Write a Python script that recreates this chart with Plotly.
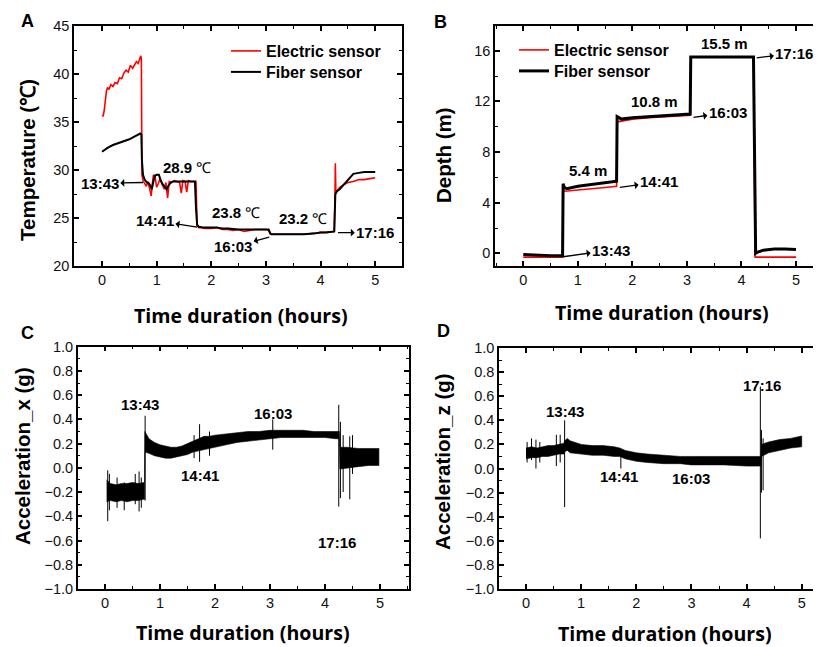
import plotly.graph_objects as go

# page is 821x647; the HTML body adds an 8 px margin, so the figure is 813x639
OFF = 8
W, H = 821 - OFF, 647 - OFF

# ---------------- Panel A : temperature ----------------
tempA_elec_t = [0.00,0.02,0.04,0.06,0.08,0.10,0.13,0.16,0.20,0.24,0.28,0.32,0.36,0.40,0.44,0.48,0.52,0.56,0.60,0.63,
                0.66,0.69,0.71,0.72,0.73,0.75,0.78,0.81,0.84,0.87,0.90,0.92,0.94,0.97,1.00,1.03,1.06,1.10,1.14,1.17,
                1.20,1.23,1.27,1.32,1.37,1.42,1.45,1.48,1.52,1.55,1.58,1.62,1.66,1.70,1.72,1.74,1.77,1.80,1.9,2.0,
                2.1,2.2,2.3,2.4,2.5,2.6,2.7,2.8,2.9,3.0,3.05,3.08,3.12,3.3,3.5,3.7,3.9,4.0,4.1,4.2,
                4.25,4.26,4.27,4.28,4.30,4.35,4.4,4.5,4.6,4.7,4.8,4.9,5.0]
tempA_elec_v = [35.7,35.6,36.2,37.5,38.2,38.6,38.4,38.9,38.7,39.1,39.0,39.6,39.5,40.1,40.4,40.2,40.9,40.6,41.0,41.3,
                41.1,41.6,41.9,41.5,29.5,28.9,28.6,28.3,28.8,27.9,27.3,28.5,29.5,29.3,28.2,28.6,29.1,28.5,28.0,28.7,
                27.1,28.8,28.7,28.9,28.8,28.7,27.6,28.9,28.8,27.7,28.9,28.8,28.8,28.8,28.8,24.2,24.0,24.0,23.9,23.9,
                24.0,23.8,23.8,23.7,23.8,23.6,23.7,23.8,23.8,23.8,23.7,23.3,23.3,23.3,23.3,23.3,23.4,23.5,23.5,23.6,
                23.6,26.0,30.7,27.5,27.8,28.2,28.4,28.7,28.8,29.0,29.0,29.1,29.2]
tempA_fib_t = [0.00,0.05,0.10,0.20,0.30,0.40,0.50,0.60,0.70,0.72,0.73,0.75,0.78,0.82,0.86,0.89,0.91,0.94,0.97,1.00,
               1.04,1.07,1.10,1.14,1.18,1.22,1.26,1.30,1.40,1.50,1.60,1.70,1.72,1.74,1.77,1.85,2.0,2.1,2.2,2.3,
               2.5,2.7,2.9,3.05,3.08,3.1,3.3,3.5,3.7,3.9,4.0,4.1,4.25,4.27,4.30,4.35,4.40,4.45,4.50,4.55,
               4.60,4.70,4.80,4.90,5.00]
tempA_fib_v = [31.9,32.1,32.3,32.6,32.8,33.0,33.2,33.5,33.8,33.7,31.0,29.5,29.0,28.7,28.6,28.3,28.0,28.8,29.4,29.5,
               29.5,29.0,28.6,28.3,28.0,28.4,28.7,28.8,28.8,28.8,28.8,28.8,26.0,24.3,24.1,24.0,24.0,24.0,23.9,23.9,
               23.8,23.8,23.8,23.8,23.4,23.3,23.3,23.3,23.3,23.4,23.5,23.5,23.6,27.5,27.8,28.0,28.3,28.7,29.0,29.3,
               29.6,29.7,29.8,29.8,29.8]

# ---------------- Panel B : depth ----------------
depB_elec_t = [0, 0.72, 0.73, 0.76, 1.0, 1.3, 1.5, 1.71, 1.72, 1.75, 2.0, 2.3, 2.6, 3.06, 3.07, 3.5, 4.0, 4.22, 4.25, 4.6, 5.0]
depB_elec_v = [-0.3, -0.3, 5.0, 4.9, 5.0, 5.1, 5.2, 5.3, 10.4, 10.4, 10.6, 10.7, 10.8, 10.9, 15.5, 15.5, 15.5, 15.5, -0.3, -0.3, -0.3]
depB_fib_t = [0, 0.2, 0.5, 0.72, 0.73, 0.75, 0.8, 1.0, 1.2, 1.4, 1.6, 1.71, 1.72, 1.75, 1.8, 2.0, 2.4, 2.8, 3.06, 3.07,
              3.5, 4.0, 4.22, 4.26, 4.3, 4.4, 4.5, 4.6, 4.8, 5.0]
depB_fib_v = [-0.1, -0.15, -0.2, -0.2, 5.5, 5.2, 5.1, 5.3, 5.4, 5.5, 5.6, 5.7, 10.8, 10.7, 10.6, 10.7, 10.8, 10.9, 11.0, 15.5,
              15.5, 15.5, 15.5, 0.0, 0.1, 0.25, 0.3, 0.35, 0.35, 0.3]

# ---------------- Panel C : acceleration x (band envelope + spikes) ----------------
accC_t = [0.03,0.1,0.2,0.3,0.4,0.5,0.6,0.7,0.72,
          0.725,0.8,0.9,1.0,1.1,1.2,1.3,1.4,1.5,1.6,1.7,1.8,1.9,
          2.0,2.2,2.4,2.6,2.8,3.0,3.2,3.4,3.6,3.8,4.0,4.2,4.26,
          4.27,4.4,4.6,4.8,4.98]
accC_hi = [-0.10,-0.13,-0.14,-0.13,-0.13,-0.12,-0.13,-0.12,-0.12,
           0.30,0.24,0.21,0.19,0.18,0.17,0.17,0.18,0.20,0.22,0.24,0.26,0.26,
           0.27,0.28,0.29,0.30,0.30,0.31,0.31,0.31,0.31,0.30,0.30,0.30,0.30,
           0.17,0.17,0.16,0.16,0.16]
accC_lo = [-0.28,-0.27,-0.28,-0.27,-0.28,-0.27,-0.27,-0.26,-0.26,
           0.13,0.12,0.10,0.09,0.08,0.08,0.09,0.10,0.11,0.13,0.14,0.15,0.16,
           0.17,0.19,0.21,0.22,0.23,0.24,0.25,0.25,0.25,0.25,0.25,0.24,0.24,
           -0.01,0.00,0.01,0.02,0.02]
spikeC_t = [0.05, 0.08, 0.22, 0.35, 0.55, 0.62, 0.66, 0.73, 1.62, 1.72, 1.9, 3.05, 4.25, 4.28, 4.33, 4.45, 4.5]
spikeC_lo = [-0.44, -0.35, -0.33, -0.35, -0.30, -0.36, -0.33, -0.27, 0.08, 0.05, 0.10, 0.15, -0.32, -0.25, -0.20, -0.26, -0.05]
spikeC_hi = [-0.02, -0.05, -0.08, -0.12, -0.05, -0.03, -0.08, 0.43, 0.27, 0.36, 0.30, 0.40, 0.52, 0.38, 0.27, 0.26, 0.27]

# ---------------- Panel D : acceleration z ----------------
accD_t = [0.0,0.1,0.2,0.3,0.4,0.5,0.6,0.69,
          0.70,0.75,0.8,
          1.0,1.2,1.4,1.6,1.7,1.8,
          2.0,2.2,2.5,2.8,3.0,3.3,3.6,4.0,4.2,4.26,
          4.27,4.4,4.6,4.8,5.0]
accD_hi = [0.17,0.18,0.17,0.18,0.19,0.19,0.20,0.21,
           0.23,0.25,0.23,
           0.20,0.19,0.19,0.18,0.17,0.15,
           0.13,0.12,0.11,0.10,0.10,0.10,0.10,0.10,0.10,0.10,
           0.20,0.22,0.24,0.25,0.27]
accD_lo = [0.08,0.09,0.09,0.10,0.10,0.11,0.12,0.12,
           0.14,0.15,0.13,
           0.12,0.11,0.11,0.10,0.10,0.08,
           0.06,0.05,0.04,0.04,0.03,0.03,0.03,0.02,0.02,0.02,
           0.10,0.13,0.15,0.17,0.18]
spikeD_t = [0.02, 0.10, 0.18, 0.25, 0.55, 0.62, 0.70, 1.72, 4.25, 4.27, 4.30]
spikeD_lo = [0.05, 0.07, 0.00, 0.05, 0.02, 0.05, -0.32, 0.00, -0.58, -0.20, -0.18]
spikeD_hi = [0.22, 0.25, 0.24, 0.22, 0.28, 0.28, 0.40, 0.15, 0.68, 0.32, 0.25]

x_ticks = [0, 1, 2, 3, 4, 5]

# ---------------- helpers (page pixel -> paper fraction) ----------------
def px(x):
    return (x - OFF) / W

def py(y):
    return 1 - (y - OFF) / H

def pair(a, b):
    n = min(len(a), len(b))
    return list(a[:n]), list(b[:n])

def band(t, hi, lo):
    n = min(len(t), len(hi), len(lo))
    t, hi, lo = t[:n], hi[:n], lo[:n]
    return list(t) + list(t[::-1]), list(hi) + list(lo[::-1])

def spikes(t, lo, hi):
    xs, ys = [], []
    for a, b, c in zip(t, lo, hi):
        xs += [a, a, None]
        ys += [b, c, None]
    return xs, ys

fig = go.Figure()

RED = "#ff0000"
BLK = "#000000"

# A
x, y = pair(tempA_elec_t, tempA_elec_v)
fig.add_trace(go.Scatter(x=x, y=y, mode="lines", line=dict(color=RED, width=1.6),
                         name="<b>Electric sensor</b>", xaxis="x", yaxis="y", legend="legend"))
x, y = pair(tempA_fib_t, tempA_fib_v)
fig.add_trace(go.Scatter(x=x, y=y, mode="lines", line=dict(color=BLK, width=2),
                         name="<b>Fiber sensor</b>", xaxis="x", yaxis="y", legend="legend2"))
# B
x, y = pair(depB_elec_t, depB_elec_v)
fig.add_trace(go.Scatter(x=x, y=y, mode="lines", line=dict(color=RED, width=1.6),
                         name="<b>Electric sensor</b>", xaxis="x2", yaxis="y2", legend="legend3"))
x, y = pair(depB_fib_t, depB_fib_v)
fig.add_trace(go.Scatter(x=x, y=y, mode="lines", line=dict(color=BLK, width=3),
                         name="<b>Fiber sensor</b>", xaxis="x2", yaxis="y2", legend="legend4"))
# C
x, y = band(accC_t, accC_hi, accC_lo)
fig.add_trace(go.Scatter(x=x, y=y, mode="lines", fill="toself", fillcolor=BLK,
                         line=dict(color=BLK, width=0.6), showlegend=False, xaxis="x3", yaxis="y3"))
x, y = spikes(spikeC_t, spikeC_lo, spikeC_hi)
fig.add_trace(go.Scatter(x=x, y=y, mode="lines", line=dict(color=BLK, width=1),
                         showlegend=False, xaxis="x3", yaxis="y3"))
# D
x, y = band(accD_t, accD_hi, accD_lo)
fig.add_trace(go.Scatter(x=x, y=y, mode="lines", fill="toself", fillcolor=BLK,
                         line=dict(color=BLK, width=0.6), showlegend=False, xaxis="x4", yaxis="y4"))
x, y = spikes(spikeD_t, spikeD_lo, spikeD_hi)
fig.add_trace(go.Scatter(x=x, y=y, mode="lines", line=dict(color=BLK, width=1),
                         showlegend=False, xaxis="x4", yaxis="y4"))

TICKFONT = dict(family="Liberation Sans, Arial", size=14.5, color="#111")

def axis_style(**kw):
    d = dict(showline=True, linecolor="black", linewidth=1.5, mirror="ticks",
             ticks="inside", ticklen=5, tickwidth=1.5, tickcolor="black", automargin=False,
             showgrid=False, zeroline=False, tickfont=TICKFONT, fixedrange=True)
    d.update(kw)
    return d

def xstyle(dom, rng, anchor):
    return axis_style(domain=[px(dom[0]), min(1.0, px(dom[1]))], range=rng, anchor=anchor,
                      tickmode="array", tickvals=x_ticks,
                      minor=dict(ticks="inside", ticklen=3, tickwidth=1.2, tickcolor="black", dtick=0.5))

def ystyle(dom, rng, anchor, dtick, mdt, fmt=None):
    d = axis_style(domain=[py(dom[1]), py(dom[0])], range=rng, anchor=anchor, dtick=dtick, tick0=0,
                   minor=dict(ticks="inside", ticklen=3, tickwidth=1.2, tickcolor="black", dtick=mdt))
    if fmt:
        d["tickformat"] = fmt
    return d

LEGFONT = dict(family="Liberation Sans, Arial", size=16, color="black")

def leg(x_left, y_mid):
    return dict(x=px(x_left), y=py(y_mid), xanchor="left", yanchor="middle",
                bgcolor="rgba(0,0,0,0)", font=LEGFONT, itemwidth=30)

fig.update_layout(
    template="none",
    width=W, height=H, margin=dict(l=0, r=0, t=0, b=0, autoexpand=False),
    paper_bgcolor="white", plot_bgcolor="white",
    xaxis=xstyle((74, 402), [-0.513, 5.49], "y"),
    yaxis=ystyle((26, 266), [20, 45], "x", 5, 2.5),
    xaxis2=xstyle((495, 821), [-0.519, 5.458], "y2"),
    yaxis2=ystyle((26, 266), [-1, 17.95], "x2", 4, 2),
    xaxis3=xstyle((77.7, 409), [-0.496, 5.527], "y3"),
    yaxis3=ystyle((346.7, 589), [-1, 1], "x3", 0.2, 0.1, ".1f"),
    xaxis4=xstyle((499, 821), [-0.49, 5.35], "y4"),
    yaxis4=ystyle((348, 589), [-1, 1], "x4", 0.2, 0.1, ".1f"),
    legend=leg(226, 51),
    legend2=leg(226, 72),
    legend3=leg(514, 50),
    legend4=leg(514, 71),
)

ann = []
BOLD = dict(family="Liberation Sans, Arial", size=15, color="black")

def label(text, x, y, size=18):
    ann.append(dict(text=f"<b>{text}</b>", x=px(x), y=py(y), xref="paper", yref="paper",
                    xanchor="center", yanchor="middle",
                    showarrow=False, font=dict(family="Liberation Sans, Arial", size=size, color="black")))

for t, x, y in [("A", 27, 21), ("B", 440, 22), ("C", 27, 333), ("D", 443, 331)]:
    label(t, x, y)

def ytitle(text, x, y, size=20.5):
    ann.append(dict(text=f"<b>{text}</b>", x=px(x), y=py(y), xref="paper", yref="paper", textangle=-90,
                    xanchor="center", yanchor="middle",
                    showarrow=False, font=dict(family="Liberation Sans, Arial", size=size, color="black")))

def xtitle(text, x, y, size=19.6):
    ann.append(dict(text=f"<b>{text}</b>", x=px(x), y=py(y), xref="paper", yref="paper",
                    xanchor="center", yanchor="middle",
                    showarrow=False, font=dict(family="Open Sans", size=size, color="black")))

ytitle("Temperature (℃)", 27, 160)
ytitle("Depth (m)", 443, 155)
ytitle("Acceleration_x (g)", 22, 456)
ytitle("Acceleration_z (g)", 442, 462)
xtitle("Time duration (hours)", 241, 315)
xtitle("Time duration (hours)", 662, 312)
xtitle("Time duration (hours)", 243, 632)
xtitle("Time duration (hours)", 665, 633)

def arrow(text, xa, ya, xt, yt, xr, yr):
    ann.append(dict(text=f"<b>{text}</b>", x=xa, y=ya, ax=xt, ay=yt, xref=xr, yref=yr,
                    axref=xr, ayref=yr, showarrow=True, arrowhead=2, arrowsize=1, arrowwidth=1.3,
                    arrowside="start", arrowcolor="black", standoff=0, startstandoff=0, font=BOLD))

def txt(text, x, y, xr, yr):
    ann.append(dict(text=text, x=x, y=y, xref=xr, yref=yr, showarrow=False,
                    xanchor="center", yanchor="middle", font=BOLD))

# A annotations
arrow("13:43", 0.75, 28.7, -0.04, 28.6, "x", "y")
arrow("14:41", 1.74, 24.06, 0.97, 24.72, "x", "y")
arrow("16:03", 3.06, 23.0, 2.40, 22.0, "x", "y")
arrow("17:16", 4.32, 23.47, 5.0, 23.47, "x", "y")
txt("<b>28.9</b> ℃", 1.55, 30.3, "x", "y")
txt("<b>23.8</b> ℃", 2.46, 25.6, "x", "y")
txt("<b>23.2</b> ℃", 3.68, 24.9, "x", "y")

# B annotations
arrow("13:43", 0.73, -0.27, 1.61, 0.26, "x2", "y2")
arrow("14:41", 1.77, 5.2, 2.49, 5.65, "x2", "y2")
arrow("16:03", 3.12, 10.73, 3.75, 11.13, "x2", "y2")
arrow("17:16", 4.28, 15.44, 4.97, 15.78, "x2", "y2")
txt("<b>5.4 m</b>", 1.19, 6.57, "x2", "y2")
txt("<b>10.8 m</b>", 2.40, 11.97, "x2", "y2")
txt("<b>15.5 m</b>", 3.68, 16.57, "x2", "y2")

# C annotations
txt("<b>13:43</b>", 0.64, 0.52, "x3", "y3")
txt("<b>14:41</b>", 1.73, -0.06, "x3", "y3")
txt("<b>16:03</b>", 3.06, 0.45, "x3", "y3")
txt("<b>17:16</b>", 4.21, -0.62, "x3", "y3")

# D annotations
txt("<b>13:43</b>", 0.71, 0.47, "x4", "y4")
txt("<b>14:41</b>", 1.68, -0.07, "x4", "y4")
txt("<b>16:03</b>", 3.00, -0.08, "x4", "y4")
txt("<b>17:16</b>", 4.28, 0.69, "x4", "y4")

fig.update_layout(annotations=ann)
fig.write_html("out.html")
